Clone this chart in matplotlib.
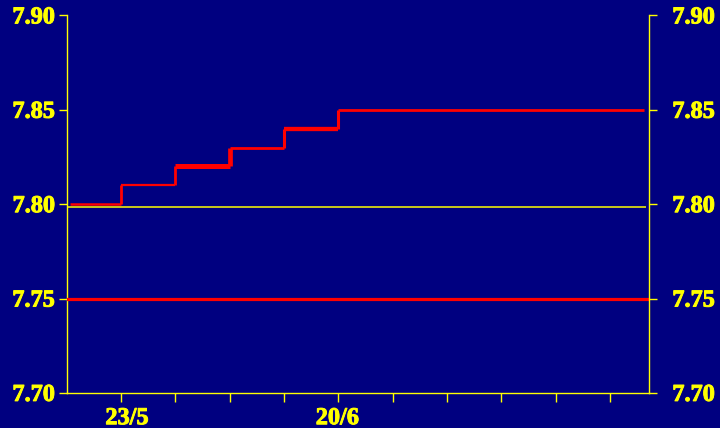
import numpy as np
import pandas as pd
import matplotlib
matplotlib.use("Agg")
import matplotlib.pyplot as plt
import matplotlib.dates as mdates
import matplotlib.patheffects as pe

BG = "#000080"
YELLOW = "#ffff00"
RED = "#ff0000"

# stepped series (date the level starts, level)
step_dates = pd.to_datetime(["2000-05-16 12:00", "2000-05-23 00:00", "2000-05-30 00:00",
                             "2000-06-06 00:00", "2000-06-13 00:00", "2000-06-20 00:00"])
step_levels = [7.80, 7.81, 7.82, 7.83, 7.84, 7.85]
step_end = pd.Timestamp("2000-07-29 10:00")

flat_level = 7.75
ref_level = 7.7986

x_start = pd.Timestamp("2000-05-16")
x_end = pd.Timestamp("2000-07-30")
tick_dates = pd.date_range("2000-05-23", "2000-07-25", freq="7D")
label_dates = pd.to_datetime(["2000-05-23", "2000-06-20"])
label_texts = ["23/5", "20/6"]
label_shift = [6, -1]   # pixels; the original labels are not quite centred
y_ticks = [7.70, 7.75, 7.80, 7.85, 7.90]

# line widths of each step segment (the original drawing is uneven)
seg_widths = [1.8, 1.6, 3.6, 2.0, 3.1, 2.0]
riser_widths = [2.0, 2.0, 3.4, 2.2, 2.2]

plt.rcParams["font.family"] = ["Liberation Serif", "DejaVu Serif"]
plt.rcParams["font.weight"] = "bold"

# the original lettering is a bit heavier than Liberation Serif Bold
heavy = [pe.withStroke(linewidth=0.7, foreground=YELLOW)]

fig = plt.figure(figsize=(7.2, 4.28), dpi=100, facecolor=BG)
ax = fig.add_axes([0.0925, 0.082, 0.8085, 0.882], facecolor=BG)

ax.axhline(flat_level, color=RED, lw=2.3, zorder=3)
ax.hlines(ref_level, x_start, x_end - pd.Timedelta(hours=8), color=YELLOW, lw=1.1, zorder=2)

ends = list(step_dates[1:]) + [step_end]
for i, (d0, d1, lev) in enumerate(zip(step_dates, ends, step_levels)):
    ax.hlines(lev, d0, d1, color=RED, lw=seg_widths[i], zorder=4)
    if i < len(step_levels) - 1:
        ax.vlines(d1, lev, step_levels[i + 1], color=RED, lw=riser_widths[i], zorder=4)

ax.set_xlim(x_start, x_end)
ax.set_ylim(7.70, 7.90)
ax.set_yticks(y_ticks)
ax.set_yticklabels([f"{v:.2f}" for v in y_ticks])
ax.set_xticks(tick_dates)
ax.set_xticklabels([""] * len(tick_dates))

# date labels below the axis
for d, txt, dx in zip(label_dates, label_texts, label_shift):
    ax.annotate(txt, xy=(mdates.date2num(d), 0), xycoords=ax.get_xaxis_transform(),
                xytext=(dx * 0.72, -11), textcoords="offset points",
                ha="center", va="top", color=YELLOW, fontsize=17.5,
                fontweight="bold", annotation_clip=False, path_effects=heavy)

ax2 = ax.twinx()
ax2.set_ylim(7.70, 7.90)
ax2.set_yticks(y_ticks)
ax2.set_yticklabels([f"{v:.2f}" for v in y_ticks])

for a in (ax, ax2):
    for side in ("top", "bottom", "left", "right"):
        a.spines[side].set_visible(False)
ax.spines["left"].set_visible(True)
ax.spines["bottom"].set_visible(True)
ax2.spines["right"].set_visible(True)
for sp in (ax.spines["left"], ax.spines["bottom"], ax2.spines["right"]):
    sp.set_color(YELLOW)
    sp.set_linewidth(1.0)

ax.tick_params(axis="y", colors=YELLOW, labelsize=17.5, length=6, width=1, pad=2.5)
ax.tick_params(axis="x", colors=YELLOW, length=6.5, width=1)
ax2.tick_params(axis="y", colors=YELLOW, labelsize=17.5, length=6, width=1, pad=11)

for lbl in ax.get_yticklabels() + ax2.get_yticklabels():
    lbl.set_path_effects(heavy)

fig.savefig("out.png", dpi=100, facecolor=BG)
